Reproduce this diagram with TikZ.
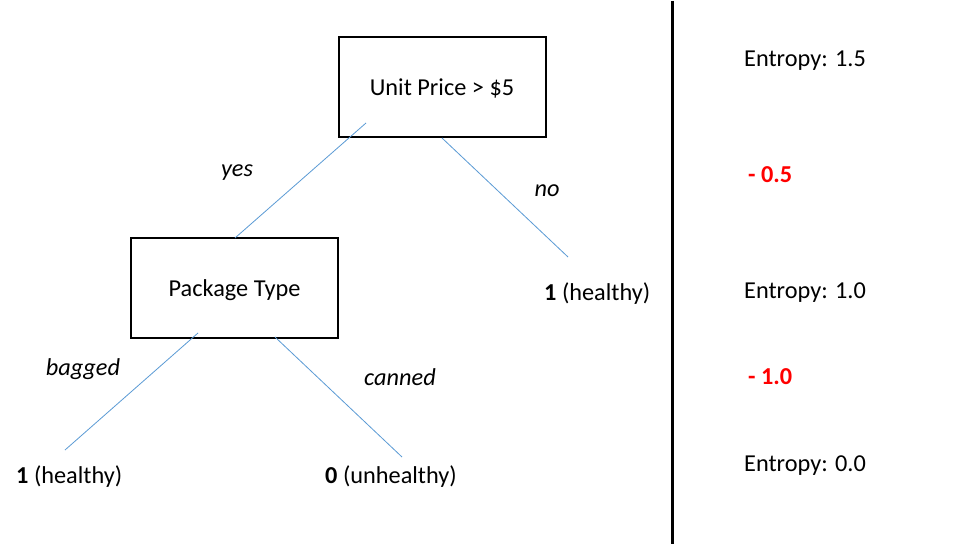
\documentclass[tikz,border=0pt]{standalone}
\usepackage{fontspec}
\setmainfont{Carlito}
\begin{document}
\begin{tikzpicture}[x=1pt,y=-1pt,
  every node/.style={font=\fontsize{24.3}{29}\selectfont, inner sep=0pt},
  box/.style={draw=black, line width=2pt, minimum width=207pt, minimum height=100pt, text depth=0pt},
  edge/.style={draw={rgb,255:red,91;green,155;blue,213}, line width=0.8pt},
  lbl/.style={font=\fontsize{24.3}{29}\selectfont\itshape},
  neg/.style={text={rgb,255:red,255;green,0;blue,0}, font=\fontsize{24.3}{29}\selectfont\bfseries}]
\useasboundingbox (0,0) rectangle (955,545);
\fill[white] (0,0) rectangle (955,545);
% boxes
\node[box] (root) at (442,87.5) {Unit Price > \$5};
\node[box] (pkg) at (234.5,288) {Package Type};
% leaves
\node[anchor=west] (leafno) at (544,294) {\textbf{1} (healthy)};
\node[anchor=west] (leafbag) at (16,477) {\textbf{1} (healthy)};
\node[anchor=west] (leafcan) at (325,477) {\textbf{0} (unhealthy)};
% edge labels
\node[lbl] (lyes) at (237,173) {yes};
\node[lbl] (lno) at (547,191) {no};
\node[lbl] (lbag) at (83,369) {bagged};
\node[lbl] (lcan) at (400,377) {canned};
% connector ends
\coordinate (a1) at (366,123);
\coordinate (a2) at (235,238);
\coordinate (b1) at (442,138);
\coordinate (b2) at (568,257);
\coordinate (c1) at (198,333);
\coordinate (c2) at (65,450);
\coordinate (d1) at (275,337);
\coordinate (d2) at (402,457);
\draw[edge] (a1) -- (a2);
\draw[edge] (b1) -- (b2);
\draw[edge] (c1) -- (c2);
\draw[edge] (d1) -- (d2);
% divider
\coordinate (v1) at (672,1);
\coordinate (v2) at (672,544);
\draw[line width=3pt] (v1) -- (v2);
% entropy column
\node[anchor=west] (e1) at (744,61) {Entropy: 1.5};
\node[neg,anchor=west] (g1) at (748,175) {- 0.5};
\node[anchor=west] (e2) at (744,293) {Entropy: 1.0};
\node[neg,anchor=west] (g2) at (748,377) {- 1.0};
\node[anchor=west] (e3) at (744,466) {Entropy: 0.0};
\end{tikzpicture}
\end{document}
